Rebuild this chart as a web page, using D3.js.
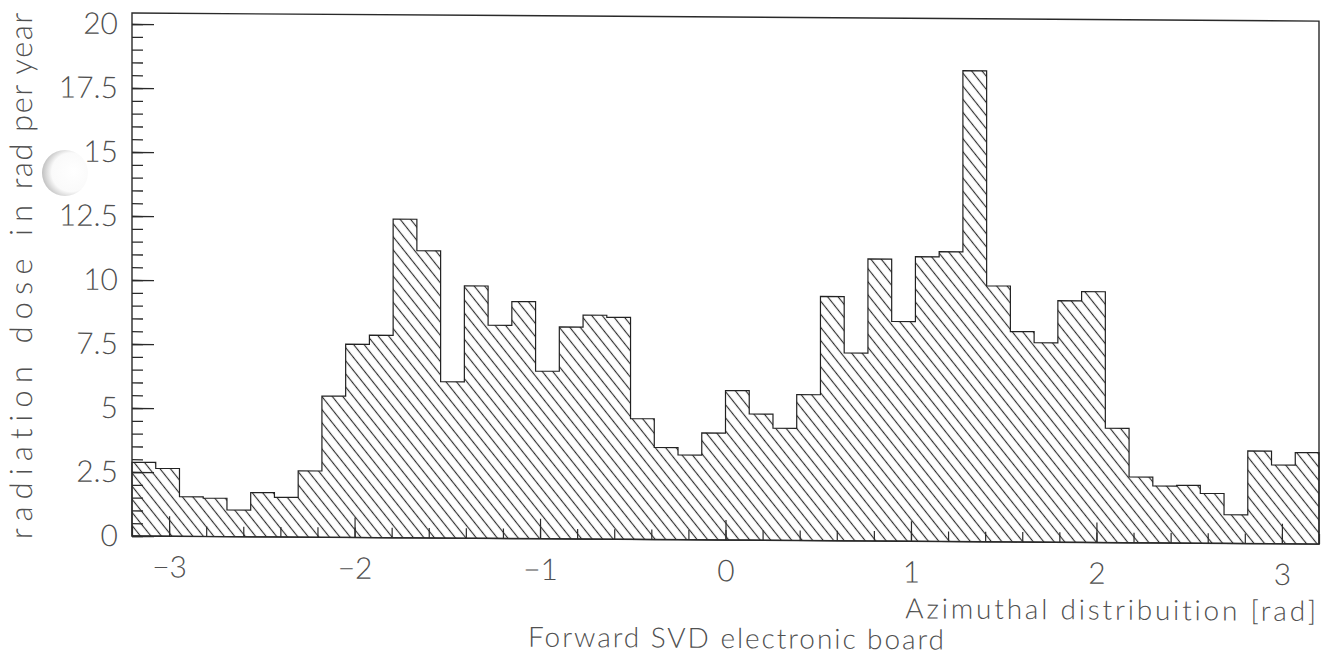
<!DOCTYPE html>
<html>
<head>
<meta charset="utf-8">
<script src="https://cdn.jsdelivr.net/npm/d3@7"></script>
<style>
  html, body { margin: 0; padding: 0; background: #ffffff; }
  svg { display: block; }
  .lbl { font-family: "Lato", "Roboto", "DejaVu Sans", sans-serif; font-weight: 300; fill: #505050; }
</style>
</head>
<body>
<svg id="chart" width="1323" height="656"></svg>
<script>
// Azimuthal distribution of the radiation dose, 50 bins over [-3.2, 3.2] rad
const xDomain = [-3.2, 3.2];
const binCount = 50;
const doseValues = [
  2.88, 2.65, 1.55, 1.50, 1.04, 1.73, 1.55, 2.59, 5.52, 7.55,
  7.91, 12.45, 11.22, 6.11, 9.86, 8.33, 9.26, 6.55, 8.28, 8.75,
  8.67, 4.72, 3.60, 3.31, 4.18, 5.84, 4.93, 4.38, 5.70, 9.54,
  7.34, 11.02, 8.58, 11.12, 11.32, 18.40, 10.00, 8.22, 7.79, 9.44,
  9.80, 4.47, 2.57, 2.23, 2.26, 1.95, 1.12, 3.62, 3.08, 3.57
];
const yMax = 20.43;

const xTickValues = [-3, -2, -1, 0, 1, 2, 3];
const xTickLabels = ["\u22123", "\u22122", "\u22121", "0", "1", "2", "3"];
const yTickValues = [0, 2.5, 5, 7.5, 10, 12.5, 15, 17.5, 20];
const yTickLabels = ["0", "2.5", "5", "7.5", "10", "12.5", "15", "17.5", "20"];

const xTitle = "Azimuthal distribuition [rad]";
const yTitleParts = ["radiation dose in", "rad per year"];
const caption = "Forward SVD electronic board";

const plotLeft = 132, plotRight = 1319, plotTop = 13, plotBottom = 536;

const svg = d3.select("#chart");
const defs = svg.append("defs");

// diagonal hatching used to fill the histogram
const hatch = defs.append("pattern")
  .attr("id", "hatch")
  .attr("patternUnits", "userSpaceOnUse")
  .attr("width", 8.2)
  .attr("height", 20)
  .attr("patternTransform", "rotate(-38.7)");
hatch.append("line")
  .attr("x1", 4.1).attr("y1", -2).attr("x2", 4.1).attr("y2", 22)
  .attr("stroke", "#2e2e2e").attr("stroke-width", 1.15);

const holeGrad = defs.append("radialGradient")
  .attr("id", "holeGrad")
  .attr("cx", "60%").attr("cy", "50%").attr("r", "62%")
  .attr("fx", "70%").attr("fy", "45%");
holeGrad.append("stop").attr("offset", "0%").attr("stop-color", "#ffffff");
holeGrad.append("stop").attr("offset", "68%").attr("stop-color", "#fafafa");
holeGrad.append("stop").attr("offset", "100%").attr("stop-color", "#bababa");

// spread letters so a text spans the wanted length
function fitText(node, target) {
  const n = node.textContent.length;
  const natural = node.getComputedTextLength();
  d3.select(node).attr("letter-spacing", ((target - natural) / n).toFixed(2));
}

// whole page is drawn very slightly sheared, as on the printed sheet
const page = svg.append("g")
  .attr("transform", `translate(${plotLeft},0) skewY(0.39) translate(${-plotLeft},0)`);

const x = d3.scaleLinear().domain(xDomain).range([plotLeft, plotRight]);
const y = d3.scaleLinear().domain([0, yMax]).range([plotBottom, plotTop]);

const binWidth = (xDomain[1] - xDomain[0]) / binCount;
const steps = doseValues.map((v, i) => ({ x0: xDomain[0] + i * binWidth, v }));
steps.push({ x0: xDomain[1], v: doseValues[binCount - 1] });

const area = d3.area()
  .curve(d3.curveStepAfter)
  .x(d => x(d.x0))
  .y0(y(0))
  .y1(d => y(d.v));

page.append("path")
  .datum(steps)
  .attr("d", area)
  .attr("fill", "url(#hatch)")
  .attr("stroke", "#222")
  .attr("stroke-width", 1.2);

// frame
page.append("rect")
  .attr("x", plotLeft).attr("y", plotTop)
  .attr("width", plotRight - plotLeft).attr("height", plotBottom - plotTop)
  .attr("fill", "none").attr("stroke", "#2a2a2a").attr("stroke-width", 1.4);

// y axis: minor ticks every 0.5, major every 2.5, all pointing inward
const yMinor = d3.range(0, 20.01, 0.5);
page.append("g")
  .attr("transform", `translate(${plotLeft},0)`)
  .call(d3.axisLeft(y).tickValues(yMinor).tickSizeInner(-11).tickSizeOuter(0).tickFormat(""))
  .call(g => g.select(".domain").remove())
  .call(g => g.selectAll("line").attr("stroke", "#2a2a2a").attr("stroke-width", 1.3));

const yAxisG = page.append("g")
  .attr("transform", `translate(${plotLeft},0)`)
  .call(d3.axisLeft(y).tickValues(yTickValues).tickSizeInner(-22).tickSizeOuter(0)
    .tickPadding(14).tickFormat((d, i) => yTickLabels[i]))
  .call(g => g.select(".domain").remove())
  .call(g => g.selectAll("line").attr("stroke", "#2a2a2a").attr("stroke-width", 1.3));
yAxisG.attr("font-family", null).attr("font-size", null);
yAxisG.selectAll("text")
  .attr("class", "lbl")
  .attr("font-size", 30)
  .attr("fill", null);

// x axis: minor ticks every 0.2, major every 1, pointing inward
const xMinor = d3.range(-3.2, 3.21, 0.2).map(v => Math.round(v * 10) / 10);
page.append("g")
  .attr("transform", `translate(0,${plotBottom})`)
  .call(d3.axisBottom(x).tickValues(xMinor).tickSizeInner(-10).tickSizeOuter(0).tickFormat(""))
  .call(g => g.select(".domain").remove())
  .call(g => g.selectAll("line").attr("stroke", "#2a2a2a").attr("stroke-width", 1.2));

const xAxisG = page.append("g")
  .attr("transform", `translate(0,${plotBottom})`)
  .call(d3.axisBottom(x).tickValues(xTickValues).tickSizeInner(-20).tickSizeOuter(0)
    .tickPadding(20).tickFormat((d, i) => xTickLabels[i]))
  .call(g => g.select(".domain").remove())
  .call(g => g.selectAll("line").attr("stroke", "#2a2a2a").attr("stroke-width", 1.2));
xAxisG.attr("font-family", null).attr("font-size", null);
xAxisG.selectAll("text")
  .attr("class", "lbl")
  .attr("font-size", 30)
  .attr("fill", null);

// titles
const xTitleText = page.append("text")
  .attr("class", "lbl")
  .attr("x", plotRight).attr("y", 613)
  .attr("text-anchor", "end")
  .attr("font-size", 28)
  .text(xTitle);
fitText(xTitleText.node(), 414);

const captionText = page.append("text")
  .attr("class", "lbl")
  .attr("x", 737).attr("y", 644)
  .attr("text-anchor", "middle")
  .attr("font-size", 28)
  .text(caption);
fitText(captionText.node(), 418);

const yTitleText = page.append("text")
  .attr("class", "lbl")
  .attr("transform", "translate(32,540) rotate(-90)")
  .attr("font-size", 31);
const yPart1 = yTitleText.append("tspan").attr("x", 0).text(yTitleParts[0]);
const yPart2 = yTitleText.append("tspan").attr("x", 350).text(yTitleParts[1]);
fitText(yPart1.node(), 342);
fitText(yPart2.node(), 178);

// binder punch hole in the margin
svg.append("circle")
  .attr("cx", 65).attr("cy", 173).attr("r", 23)
  .attr("fill", "url(#holeGrad)");
</script>
</body>
</html>
